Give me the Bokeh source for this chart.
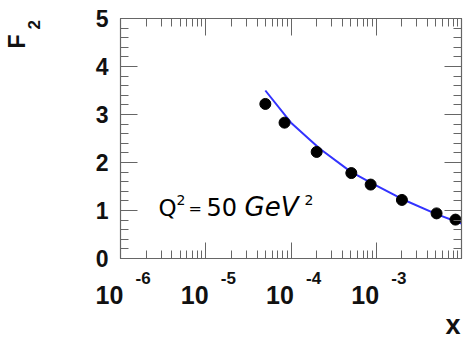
from math import pi, log10
from bokeh.plotting import figure
from bokeh.layouts import row, column
from bokeh.models import (Range1d, LinearAxis, LogAxis, SingleIntervalTicker, LogTicker,
                          CustomJSTickFormatter, Label, LogScale)
from bokeh.embed import file_html
from bokeh.resources import INLINE

# ---- data ----
x_data = [5.0e-5, 8.4e-5, 2.0e-4, 5.1e-4, 8.6e-4, 2.0e-3, 5.1e-3, 8.5e-3]
f2_data = [3.22, 2.83, 2.22, 1.78, 1.54, 1.22, 0.94, 0.81]
x_fit = [5.0e-5, 1.0e-4, 1.7e-4, 2.2e-4, 5.0e-4, 8.6e-4, 2.0e-3, 5.0e-3, 1.0e-2]
f2_fit = [3.50, 2.83, 2.46, 2.28, 1.81, 1.58, 1.24, 0.93, 0.73]
x_tick_vals = [1e-6, 1e-5, 1e-4, 1e-3]
x_tick_base = ["10", "10", "10", "10"]
x_tick_exps = ["-6", "-5", "-4", "-3"]
X_MIN, X_MAX = 1e-6, 1e-2
Y_MIN, Y_MAX = 0, 5

# ---- layout geometry (canvas px) ----
W, H = 465, 339
LW = 50            # left strip (y title)
MAIN_H = 267       # height of the top row
FL, FR, FT, FB = 120, 461, 18, 258   # frame edges
FONT = "Liberation Sans"
AX = "#666666"
INK = "#111111"
BASE_K = 0.38      # measured baseline correction of rendered labels (fraction of font size)

def bare(fig):
    fig.grid.visible = False
    fig.outline_line_color = None
    fig.background_fill_color = "white"
    fig.border_fill_color = "white"

def label(fig, x, y, t, size_px, style="bold", font=FONT, align="left", angle=0.0,
          color=INK, x_units="canvas", x_offset=0.0):
    corr = BASE_K * size_px
    if angle:
        x_offset -= corr
    else:
        y -= corr
    fig.add_layout(Label(x=x, y=y, x_units=x_units, y_units="canvas", text=t,
                         x_offset=x_offset, angle=angle,
                         text_align=align, text_baseline="alphabetic",
                         text_font=font, text_font_style=style,
                         text_font_size=f"{size_px}px", text_color=color))

# ================= main plot =================
p = figure(width=W - LW, height=MAIN_H, x_axis_type="log",
           x_range=Range1d(X_MIN, X_MAX), y_range=Range1d(Y_MIN, Y_MAX),
           output_backend="svg", toolbar_location=None,
           min_border_left=FL - LW, min_border_right=W - FR,
           min_border_top=FT, min_border_bottom=MAIN_H - FB)
bare(p)

empty = CustomJSTickFormatter(code="return ''")

def style_axis(ax, major_in=17, minor_in=8):
    ax.axis_line_color = AX
    ax.axis_line_width = 1.2
    ax.major_tick_line_color = AX
    ax.minor_tick_line_color = AX
    ax.major_tick_in = major_in
    ax.major_tick_out = 0
    ax.minor_tick_in = minor_in
    ax.minor_tick_out = 0

xb = p.xaxis[0]
xb.ticker = LogTicker(num_minor_ticks=10)
xb.formatter = empty
xb.major_label_text_font_size = "1px"
xb.major_label_standoff = 0
style_axis(xb, 16, 8)

yl = p.yaxis[0]
yl.ticker = SingleIntervalTicker(interval=1, num_minor_ticks=5)
yl.major_label_text_font = FONT
yl.major_label_text_font_style = "bold"
yl.major_label_text_font_size = "23px"
yl.major_label_text_color = INK
yl.major_label_standoff = 12
style_axis(yl, 17, 8)

xt = LogAxis(ticker=LogTicker(num_minor_ticks=10), formatter=empty,
             major_label_text_font_size="1px", major_label_standoff=0)
style_axis(xt, 17, 8)
p.add_layout(xt, "above")
yr = LinearAxis(ticker=SingleIntervalTicker(interval=1, num_minor_ticks=5), formatter=empty,
                major_label_text_font_size="1px", major_label_standoff=0)
style_axis(yr, 17, 8)
p.add_layout(yr, "right")

p.line(x_fit, f2_fit, line_color="#3333ff", line_width=2)
p.scatter(x_data, f2_data, size=11, marker="circle", fill_color="black", line_color="black")

# annotation Q^2 = 50 GeV^2 (canvas of p starts at x = LW)
QF = "DejaVu Sans"
label(p, 158 - LW, 216, "Q", 23, style="normal", font=QF, color="#000000")
label(p, 176 - LW, 205, "2", 14, style="normal", font=QF, color="#000000")
label(p, 188 - LW, 214, "=", 16, style="normal", font=QF, color="#000000")
label(p, 206 - LW, 216, "50", 24, style="normal", font=QF, color="#000000")
label(p, 244 - LW, 216, "GeV", 26, style="italic", font=QF, color="#000000")
label(p, 304 - LW, 205, "2", 14, style="normal", font=QF, color="#000000")

# ================= left strip: F2 title =================
lf = figure(width=LW, height=MAIN_H, x_range=Range1d(0, LW), y_range=Range1d(0, MAIN_H),
            x_axis_location=None, y_axis_location=None, title=None,
            output_backend="svg", toolbar_location=None, min_border=0)
bare(lf)
label(lf, 25, 48, "F", 23, angle=pi / 2)
label(lf, 40, 29, "2", 17, angle=pi / 2)

# ================= bottom strip: x tick labels and x title =================
dec_px = (FR - FL) / (log10(X_MAX) - log10(X_MIN))
bx0 = 10 ** (log10(X_MIN) - FL / dec_px)
bx1 = 10 ** (log10(X_MAX) + (W - FR) / dec_px)
BH = H - MAIN_H
bt = figure(width=W, height=BH, x_axis_type="log",
            x_range=Range1d(bx0, bx1), y_range=Range1d(0, BH),
            x_axis_location=None, y_axis_location=None, title=None,
            output_backend="svg", toolbar_location=None, min_border=0)
bt.x_scale = LogScale()
bare(bt)

for xv, base, ex in zip(x_tick_vals, x_tick_base, x_tick_exps):
    label(bt, xv, 304 - MAIN_H, base, 25, align="center", x_units="data", x_offset=-11)
    label(bt, xv, 284 - MAIN_H, ex, 17, x_units="data", x_offset=15)
label(bt, 452.5, 335 - MAIN_H, "x", 27, align="center")

layout = column(row(lf, p, spacing=0), bt, spacing=0)
open("out.html", "w").write(file_html(layout, INLINE))
